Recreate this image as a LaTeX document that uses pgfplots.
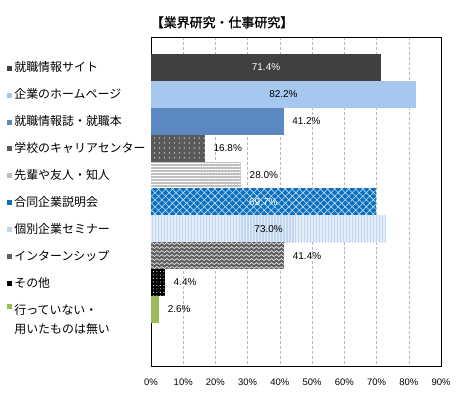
\documentclass[border=0pt]{standalone}
\usepackage{fontspec}
\setmainfont{Liberation Sans}
\newfontfamily\cjk{Noto Sans CJK JP}[AutoFakeBold=1.5]
\usepackage{pgfplots}
\pgfplotsset{compat=1.18}
\usetikzlibrary{patterns,patterns.meta}
\definecolor{c1}{HTML}{404040}
\definecolor{c2}{HTML}{A7C8EE}
\definecolor{c3}{HTML}{5B88C1}
\definecolor{c4}{HTML}{5A5A5A}
\definecolor{c5}{HTML}{BFBFBF}
\definecolor{c6}{HTML}{0A70C0}
\definecolor{c7}{HTML}{C2D6F0}
\definecolor{c7b}{HTML}{E3EDF9}
\definecolor{c8}{HTML}{5F5F5F}
\definecolor{c9}{HTML}{000000}
\definecolor{c10}{HTML}{9BBB59}
\pgfdeclarepatternformonly{zigzag}{\pgfpoint{-1pt}{-1pt}}{\pgfpoint{6pt}{5pt}}{\pgfpoint{5pt}{4pt}}{%
 \pgfsetlinewidth{0.7pt}%
 \pgfpathmoveto{\pgfpoint{0pt}{1pt}}%
 \pgfpathlineto{\pgfpoint{2.5pt}{3pt}}%
 \pgfpathlineto{\pgfpoint{5pt}{1pt}}%
 \pgfusepath{stroke}}
\newcommand{\mk}[1]{\textcolor{#1}{\rule[0.1em]{5bp}{5bp}}\hspace{2.5bp}}
\pgfplotsset{mybar/.style={xbar, bar width=1, bar shift=0pt, draw=none,
  nodes near coords={\pgfmathprintnumber[fixed,fixed zerofill,precision=1]{\pgfplotspointmeta}\%},
  nodes near coords style={font=\fontsize{10}{12}\selectfont, xshift=5bp, text=black}},
  inlab/.style={only marks, mark=none, point meta=explicit symbolic, nodes near coords,
  nodes near coords align=center,
  nodes near coords style={font=\fontsize{10}{12}\selectfont, anchor=center, text=#1}}}
\begin{document}
\begin{tikzpicture}
\path[use as bounding box] (-151bp,-30.3bp) rectangle (309bp,366.7bp);
\begin{axis}[
 at={(0,0)}, anchor=south west,
 scale only axis, width=290bp, height=329.4bp,
 xmin=0, xmax=90, xtick={0,10,...,90},
 xticklabel={\pgfmathprintnumber{\tick}\%},
 ymin=-1.12, ymax=11.13, y dir=reverse,
 ytick={0,...,9},
 yticklabels={
  {\mk{c1}\cjk 就職情報サイト},
  {\mk{c2}\cjk 企業のホームページ},
  {\mk{c3}\cjk 就職情報誌・就職本},
  {\mk{c4}\cjk 学校のキャリアセンター},
  {\mk{c5}\cjk 先輩や友人・知人},
  {\mk{c6}\cjk 合同企業説明会},
  {\mk{c7}\cjk 個別企業セミナー},
  {\mk{c8}\cjk インターンシップ},
  {\mk{c9}\cjk その他},
  {\mk{c10}\raisebox{-4bp}{\smash{\parbox[t]{125bp}{\fontsize{12}{19}\selectfont\cjk 行っていない・\\用いたものは無い}}}}
 },
 xmajorgrids, major grid style={densely dashed, gray!55, line width=0.4pt},
 major tick length=0pt,
 axis line style={line width=0.7pt},
 /pgf/number format/assume math mode=true,
 xticklabel style={font=\fontsize{9.5}{11}\selectfont, yshift=-9bp},
 yticklabel style={font=\fontsize{12}{15}\selectfont, text width=152bp, align=left, inner sep=0pt, anchor=east, xshift=8bp},
 title={\cjk\bfseries\fontsize{13}{15}\selectfont 【業界研究・仕事研究】},
 title style={at={(axis description cs:0.245,1)}, anchor=center, yshift=9bp},
 clip=false,
]
\addplot[mybar, fill=c1, nodes near coords=\empty] coordinates {(71.4,0)};
\addplot[mybar, fill=c2, nodes near coords=\empty] coordinates {(82.2,1)};
\addplot[mybar, fill=c3] coordinates {(41.2,2)};
\addplot[mybar, fill=c4, postaction={pattern={Dots[distance=5pt, radius=0.6pt]}, pattern color=white}] coordinates {(16.8,3)};
\addplot[mybar, fill=c5, postaction={pattern={Lines[angle=0, distance=3pt, line width=0.8pt]}, pattern color=white}] coordinates {(28.0,4)};
\addplot[mybar, fill=c6, nodes near coords=\empty, postaction={pattern={Lines[angle=45, distance=5pt, line width=0.6pt]}, pattern color=white!80!c6}, postaction={pattern={Lines[angle=-45, distance=5pt, line width=0.6pt]}, pattern color=white!80!c6}] coordinates {(69.7,5)};
\addplot[mybar, fill=c7b, nodes near coords=\empty, postaction={pattern={Lines[angle=90, distance=3pt, line width=1.2pt]}, pattern color=c7}] coordinates {(73.0,6)};
\addplot[mybar, fill=c8, postaction={pattern=zigzag, pattern color=white!85!c8}] coordinates {(41.4,7)};
\addplot[mybar, fill=c9, postaction={pattern={Dots[distance=3.5pt, radius=0.55pt]}, pattern color=white}] coordinates {(4.4,8)};
\addplot[mybar, fill=c10] coordinates {(2.6,9)};
\addplot[inlab=white] coordinates {(35.7,0) [71.4\%]};
\addplot[inlab=black] coordinates {(41.1,1) [82.2\%]};
\addplot[inlab=white] coordinates {(34.85,5) [69.7\%]};
\addplot[inlab=black] coordinates {(36.5,6) [73.0\%]};
\end{axis}
\end{tikzpicture}
\end{document}
